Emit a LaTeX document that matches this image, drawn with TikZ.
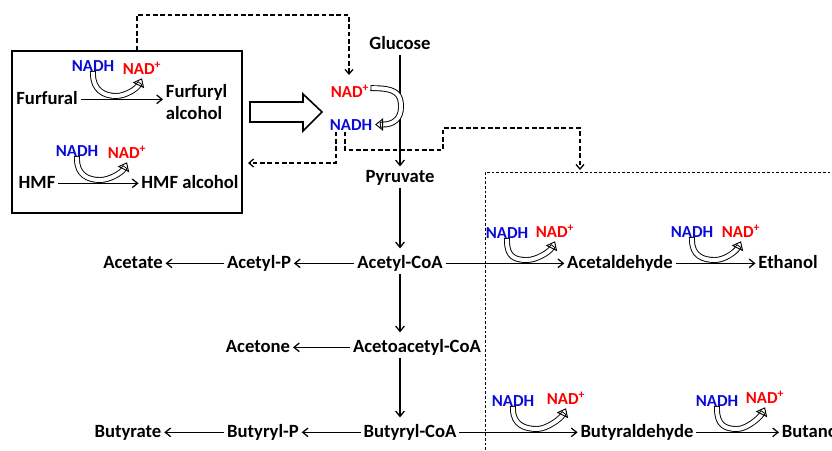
\documentclass[tikz,border=0pt]{standalone}
\usepackage{fontspec}
\setmainfont{Carlito}
\usetikzlibrary{
    arrows.meta,
    calc
}
\definecolor{nadblue}{RGB}{10,10,215}
\definecolor{nadred}{RGB}{255,0,0}
\tikzset{
    % Labels
    lbl/.style={
        font=\fontsize{14}{16.5}\selectfont\bfseries,
        inner sep=2pt
    },
    metab/.style={
        lbl,
        text height=9.5pt,
        text depth=2.5pt,
        anchor=base
    },
    % Cofactors
    nadh/.style={
        font=\fontsize{12.6}{14}\selectfont\bfseries,
        text=nadblue,
        inner sep=1pt,
        anchor=base
    },
    nadp/.style={
        nadh,
        text=nadred
    },
    % Arrows
    arrow/.style={
        -{Straight Barb[length=4pt,width=6.5pt]},
        line width=0.95pt
    },
    hollow/.style={
        line width=0.7pt,
        line cap=rect,
        double=white,
        double distance=3pt,
        -{Triangle[open,length=6pt,width=9.5pt]}
    },
    dashedarrow/.style={
        -{Straight Barb[length=3.5pt,width=6pt]},
        line width=0.95pt,
        dash pattern=on 3.5pt off 2pt
    },
    dashbox/.style={
        line width=0.6pt,
        dash pattern=on 2pt off 1.5pt
    },
    bigarrow/.style={
        draw,
        line width=1.2pt,
        line join=miter
    }
}

\begin{document}
\begin{tikzpicture}[x=0.75pt, y=-0.75pt]
    \useasboundingbox (0,0) rectangle (832,450);
    \clip (0,0) rectangle (832,450);

    % Inhibitor box
    \node[draw, line width=1.1pt, minimum width=172.5pt, minimum height=121.5pt, inner sep=0pt] (inhib) at (127,132) {};

    % Furfural
    \node[metab] (fur) at (47,104) {Furfural};
    \node[lbl, align=left, anchor=north west] (furalc) at (163,81) {Furfuryl\\alcohol};
    \node[nadh] (nadhA) at (93,71) {NADH};
    \node[nadp] (nadA) at (142,74) {NAD\textsuperscript{+}};
    \draw[arrow] (fur) -- (fur -| furalc.west);
    \draw[hollow] ([yshift=-1pt]nadhA.south) .. controls +(0,16) and +(-12,0) .. (116,96) .. controls +(10,0) and +(-5,10) .. ([yshift=-2pt]nadA.south);

    % HMF
    \node[metab] (hmf) at (37,188) {HMF};
    \node[metab] (hmfalc) at (190,188) {HMF alcohol};
    \node[nadh] (nadhB) at (77,156) {NADH};
    \node[nadp] (nadB) at (127,158) {NAD\textsuperscript{+}};
    \draw[arrow] (hmf) -- (hmfalc);
    \draw[hollow] ([yshift=-1pt]nadhB.south) .. controls +(0,16) and +(-12,0) .. (100,180) .. controls +(10,0) and +(-5,10) .. ([yshift=-2pt]nadB.south);

    % Big arrow
    \draw[bigarrow] (250,102) -- (303,102) -- (303,94) -- (322,112) -- (303,131) -- (303,122) -- (250,122) -- cycle;

    % Glycolysis
    \node[metab] (glu) at (400,49) {Glucose};
    \node[metab] (pyr) at (400,182) {Pyruvate};
    \node[nadp] (nadC) at (350,97) {NAD\textsuperscript{+}};
    \node[nadh] (nadhC) at (351,130) {NADH};
    \draw[arrow] (glu) -- (pyr);
    \draw[hollow] ([xshift=2pt,yshift=2pt]nadC.east) .. controls +(24,0) and +(0,-12) .. (401,107) .. controls +(0,12) and +(18,0) .. ([xshift=1pt]nadhC.east);

    % Acids
    \node[metab] (acoa) at (400,268) {Acetyl-CoA};
    \node[metab] (acp) at (259,268) {Acetyl-P};
    \node[metab] (acet) at (133,268) {Acetate};
    \node[metab] (aacoa) at (417,352) {Acetoacetyl-CoA};
    \node[metab] (acetone) at (258,352) {Acetone};
    \node[metab] (bcoa) at (410,437) {Butyryl-CoA};
    \node[metab] (bp) at (263,437) {Butyryl-P};
    \node[metab] (buty) at (128,437) {Butyrate};

    \draw[arrow, shorten >=3pt] (pyr) -- (acoa);
    \draw[arrow] (acoa) -- (acp);
    \draw[arrow] (acp) -- (acet);
    \draw[arrow, shorten >=3pt] (acoa.south) -- (acoa.south |- aacoa.north);
    \draw[arrow] (aacoa) -- (acetone);
    \draw[arrow, shorten >=3pt] (acoa.south |- aacoa.south) -- (acoa.south |- bcoa.north);
    \draw[arrow] (bcoa) -- (bp);
    \draw[arrow] (bp) -- (buty);

    % Solvents
    \node[metab] (acald) at (620,268) {Acetaldehyde};
    \node[metab] (etoh) at (788,268) {Ethanol};
    \node[metab] (bald) at (637,437) {Butyraldehyde};
    \node[metab, anchor=base west] (buoh) at (779,437) {Butanol};

    \draw[arrow] (acoa) -- (acald);
    \draw[arrow] (acald) -- (etoh);
    \draw[arrow] (bcoa) -- (bald);
    \draw[arrow] (bald) -- (buoh);

    \node[nadh] (nadhD) at (507,238) {NADH};
    \node[nadp] (nadD) at (555,237) {NAD\textsuperscript{+}};
    \draw[hollow] ([yshift=-1pt]nadhD.south) .. controls +(0,16) and +(-12,0) .. (527,260) .. controls +(10,0) and +(-5,10) .. ([yshift=-2pt]nadD.south);
    \node[nadh] (nadhE) at (692,237) {NADH};
    \node[nadp] (nadE) at (741,237) {NAD\textsuperscript{+}};
    \draw[hollow] ([yshift=-1pt]nadhE.south) .. controls +(0,16) and +(-12,0) .. (715,260) .. controls +(10,0) and +(-5,10) .. ([yshift=-2pt]nadE.south);
    \node[nadh] (nadhF) at (513,406) {NADH};
    \node[nadp] (nadF) at (566,404) {NAD\textsuperscript{+}};
    \draw[hollow] ([yshift=-1pt]nadhF.south) .. controls +(0,16) and +(-12,0) .. (537,429) .. controls +(10,0) and +(-5,10) .. ([yshift=-2pt]nadF.south);
    \node[nadh] (nadhG) at (717,406) {NADH};
    \node[nadp] (nadG) at (765,403) {NAD\textsuperscript{+}};
    \draw[hollow] ([yshift=-1pt]nadhG.south) .. controls +(0,16) and +(-12,0) .. (737,429) .. controls +(10,0) and +(-5,10) .. ([yshift=-2pt]nadG.south);

    % Dashed links
    \coordinate (inA) at (349,75);
    \coordinate (outB) at (248,163);
    \coordinate (inC) at (580,170);
    \coordinate (solv) at (485,172);
    \draw[dashedarrow] (inhib.north -| 137,0) |- (349,15) -- (inA);
    \draw[dashedarrow] (nadhC.south -| 336,0) |- (outB);
    \draw[dashedarrow] (nadhC.south -| 345,0) |- (443,150) |- (580,128) -- (inC);
    \draw[dashbox] (solv |- 0,450) -- (solv) -- (832,172);

\end{tikzpicture}
\end{document}
